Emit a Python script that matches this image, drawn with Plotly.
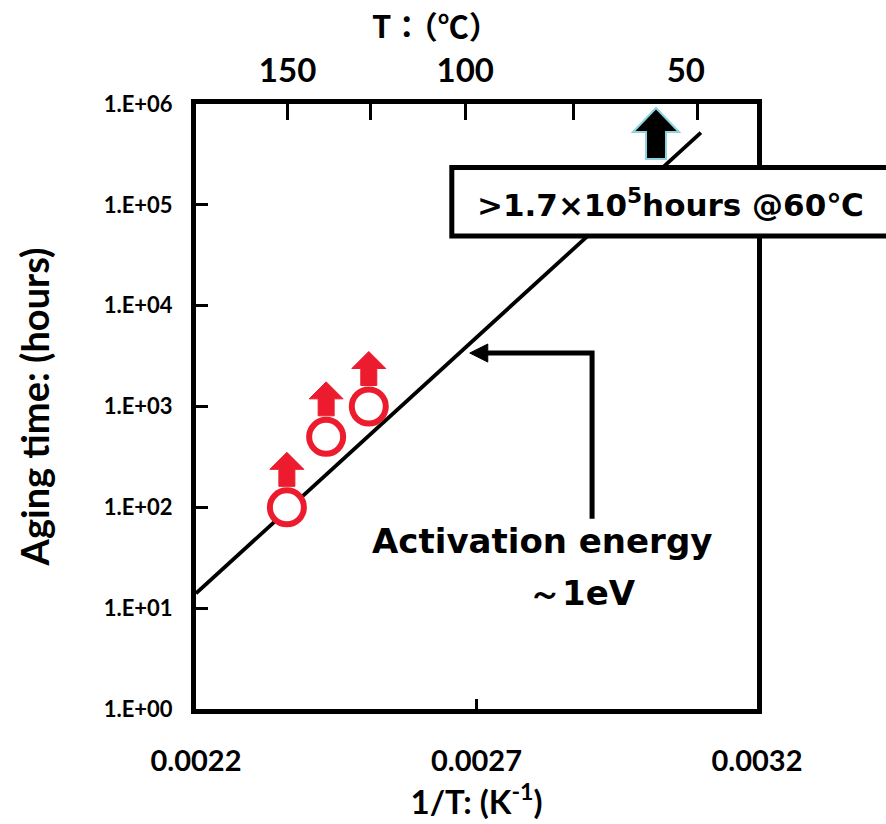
import plotly.graph_objects as go

# ---- data ----
inv_T = [0.002362, 0.002432, 0.002508]          # 1/T (K^-1) of aging tests
aging_hours = [100, 500, 1000]                   # aging time (hours), lower bounds
fit_inv_T = [0.0022, 0.0031]                     # Arrhenius fit line, ~1 eV
fit_hours = [14, 5.2e5]
y_tickvals = [1, 10, 100, 1000, 1e4, 1e5, 1e6]
y_ticktext = ["1.E+00", "1.E+01", "1.E+02", "1.E+03", "1.E+04", "1.E+05", "1.E+06"]
x_tickvals = [0.0022, 0.0027, 0.0032]
x_ticktext = ["0.0022", "0.0027", "0.0032"]
top_temps_C = [150, 125, 100, 75, 50]
top_ticktext = ["150", "", "100", "", "50"]
target_inv_T = 0.00302                           # 60 C estimate marker (black arrow)

RED = "#ec1c2e"
LAB = "Lato"
ARI = "DejaVu Sans"
CJK = "Noto Sans CJK JP, Noto Sans CJK SC"

fig = go.Figure()

# fit line
fig.add_trace(go.Scatter(x=fit_inv_T, y=fit_hours, mode="lines",
                         line=dict(color="black", width=3.8), hoverinfo="skip"))
# data points
fig.add_trace(go.Scatter(x=inv_T, y=aging_hours, mode="markers",
                         marker=dict(symbol="circle", size=34, color="white",
                                     line=dict(color=RED, width=6))))
# invisible trace for the top axis
top_x = [1.0 / (t + 273.15) for t in top_temps_C]
# the "50" label sits a little left of its tick in the reference
top_labels = [t + "\u00a0\u00a0\u00a0" if t == "50" else t for t in top_ticktext]
fig.add_trace(go.Scatter(x=top_x, y=[1] * len(top_x), xaxis="x2", mode="markers",
                         marker=dict(opacity=0), hoverinfo="skip"))

shapes = []
# red up arrows above each data point (pixel offsets anchored on data)
arrow_red = "M 0,55 L -17,38 L -8,38 L -8,21 L 8,21 L 8,38 L 17,38 Z"
for xv, yv in zip(inv_T, aging_hours):
    shapes.append(dict(type="path", xref="x", yref="y", xsizemode="pixel", ysizemode="pixel",
                       xanchor=xv, yanchor=yv, path=arrow_red,
                       fillcolor=RED, line=dict(color=RED, width=1), layer="above"))
# black arrow at the top (60 C)
arrow_blk = "M 0,-4 L -23,-28 L -10,-28 L -10,-55 L 10,-55 L 10,-28 L 23,-28 Z"
shapes.append(dict(type="path", xref="x", yref="paper", xsizemode="pixel", ysizemode="pixel",
                   xanchor=target_inv_T, yanchor=1, path=arrow_blk,
                   fillcolor="black", line=dict(color="#8fd3dc", width=2), layer="above"))
# text box
shapes.append(dict(type="rect", xref="paper", yref="paper",
                   x0=0.456, x1=1.27, y0=0.782, y1=0.895,
                   fillcolor="white", line=dict(color="black", width=5), layer="above"))
# elbow connector from "Activation energy" to the line
corner_x, corner_y = 0.002906, 3390
bottom_y = 77
tip_x = 0.002688
shapes.append(dict(type="path", xref="x", yref="y",
                   path=f"M {corner_x},{bottom_y} L {corner_x},{corner_y} L {tip_x + 0.000025},{corner_y}",
                   line=dict(color="black", width=5), layer="above"))
shapes.append(dict(type="path", xref="x", yref="y", xsizemode="pixel", ysizemode="pixel",
                   xanchor=tip_x, yanchor=corner_y, path="M 0,0 L 18,9 L 18,-9 Z",
                   fillcolor="black", line=dict(color="black", width=1), layer="above"))

def ann(text, x, y, family, size):
    return dict(text=text, xref="paper", yref="paper", x=x, y=y, showarrow=False,
                xanchor="center", yanchor="middle",
                font=dict(family=family, size=size, color="black", weight="bold"))

annotations = [
    ann("T：（℃）", 0.428, 1.132, CJK, 31),
    ann(">1.7×10<sup>5</sup>hours @60℃", 0.845, 0.836, ARI, 31),
    ann("Activation energy", 0.617, 0.277, ARI, 34),
    ann("～1eV", 0.688, 0.192, ARI, 34),
]

axis_common = dict(showgrid=False, zeroline=False, linecolor="black", linewidth=5,
                   ticks="inside", tickcolor="black", tickwidth=3)

fig.update_layout(
    width=886, height=824,
    margin=dict(l=196, r=129, t=104, b=110),
    paper_bgcolor="white", plot_bgcolor="white",
    showlegend=False,
    shapes=shapes, annotations=annotations,
    xaxis=dict(range=[0.0022, 0.0032], tickvals=x_tickvals, ticktext=x_ticktext,
               ticklen=10, mirror=True, ticklabelstandoff=22,
               tickfont=dict(family=LAB, size=29, color="black", weight="bold"),
               title=dict(text="1/T: (K<sup>-1</sup>)", standoff=12,
                          font=dict(family=LAB, size=33, color="black", weight="bold")),
               **axis_common),
    xaxis2=dict(range=[0.0022, 0.0032], overlaying="x", side="top", anchor="y",
                tickvals=top_x, ticktext=top_labels, ticklen=16, ticklabelstandoff=4,
                tickfont=dict(family=LAB, size=33, color="black", weight="bold"),
                **axis_common),
    yaxis=dict(type="log", range=[0, 6], tickvals=y_tickvals, ticktext=y_ticktext,
               ticklen=12, mirror=True, ticklabelstandoff=14,
               tickfont=dict(family=LAB, size=22, color="black", weight="bold"),
               title=dict(text="Aging time: (hours)", standoff=44,
                          font=dict(family=LAB, size=38, color="black", weight="bold")),
               **axis_common),
)

fig.write_html("out.html", config={"displayModeBar": False},
               post_script="document.body.style.margin='0';")
